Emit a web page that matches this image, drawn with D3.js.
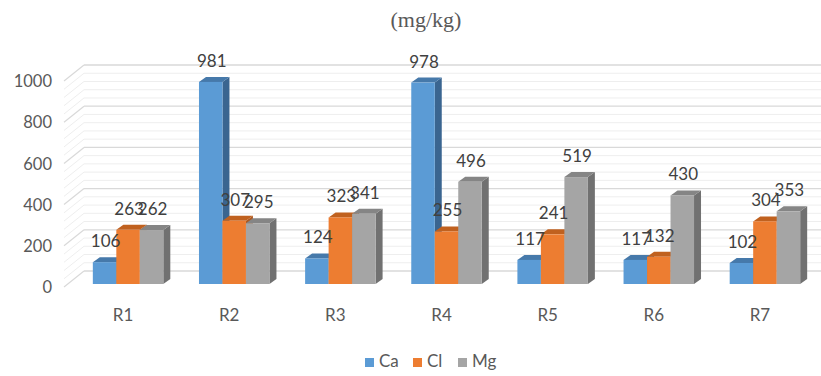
<!DOCTYPE html>
<html>
<head>
<meta charset="utf-8">
<script src="https://cdn.jsdelivr.net/npm/d3@7"></script>
<style>
  body { margin: 0; background: #fff; }
  svg { display: block; }
</style>
</head>
<body>
<div id="chart"></div>
<script>
// chart data
const categories = ["R1", "R2", "R3", "R4", "R5", "R6", "R7"];
const seriesNames = ["Ca", "Cl", "Mg"];
const caValues = [106, 981, 124, 978, 117, 117, 102];
const clValues = [263, 307, 323, 255, 241, 132, 304];
const mgValues = [262, 295, 341, 496, 519, 430, 353];
const yTicks = [0, 200, 400, 600, 800, 1000];
const titleText = "(mg/kg)";

const width = 821, height = 376;
const font = "Lato, 'Open Sans', sans-serif";

// colours: front, top, side
const colors = {
  Ca: ["#5b9bd5", "#4679aa", "#3a6590"],
  Cl: ["#ed7d31", "#c0611f", "#ad5a22"],
  Mg: ["#a5a5a5", "#858585", "#717171"]
};

const data = categories.map((c, i) => ({ cat: c, Ca: caValues[i], Cl: clValues[i], Mg: mgValues[i] }));

const svg = d3.select("#chart")
  .append("svg")
  .attr("width", width)
  .attr("height", height);

// bar plane scales
const x = d3.scaleBand()
  .domain(categories)
  .range([75, 818])
  .paddingInner(0.336)
  .paddingOuter(0.168);

const xSub = d3.scaleBand()
  .domain(seriesNames)
  .range([0, x.bandwidth()]);

const y = d3.scaleLinear().domain([0, 1000]).range([284, 78]);

// wall offsets relative to the bar plane
const back = { dx: 16, dy: -13 };
const front = { dx: -4, dy: 3 };
const barDepth = { dx: 7, dy: -5 };

// gridlines (major every 200, minor every 40)
const gridVals = d3.range(0, 1001, 40);
const grid = svg.append("g");
gridVals.forEach(v => {
  const major = v % 200 === 0;
  const col = major ? "#d9d9d9" : "#eeeeee";
  const yb = y(v) + back.dy, yf = y(v) + front.dy;
  const xb = x.range()[0] - 7 + back.dx, xf = x.range()[0] - 7 + front.dx;
  grid.append("line")
    .attr("x1", xf).attr("y1", yf)
    .attr("x2", xb).attr("y2", yb)
    .attr("stroke", col).attr("stroke-width", major ? 1.3 : 1);
  grid.append("line")
    .attr("x1", xb).attr("y1", yb)
    .attr("x2", width).attr("y2", yb)
    .attr("stroke", col).attr("stroke-width", major ? 1.3 : 1);
});

// y axis labels
svg.append("g")
  .selectAll("text")
  .data(yTicks)
  .join("text")
  .attr("x", 52)
  .attr("y", d => y(d) + front.dy + 2)
  .attr("text-anchor", "end")
  .attr("dominant-baseline", "middle")
  .style("font-family", font)
  .style("font-size", "16.5px")
  .attr("fill", "#595959")
  .text(d => d);

// bars
const bars = svg.append("g");
data.forEach(d => {
  seriesNames.forEach(key => {
    const x0 = x(d.cat) + xSub(key);
    const w = xSub.bandwidth();
    const yt = y(d[key]), yb = y(0);
    const c = colors[key];
    // side face
    bars.append("path")
      .attr("d", `M${x0 + w},${yt} L${x0 + w + barDepth.dx},${yt + barDepth.dy} L${x0 + w + barDepth.dx},${yb + barDepth.dy} L${x0 + w},${yb} Z`)
      .attr("fill", c[2]);
    // top face
    bars.append("path")
      .attr("d", `M${x0},${yt} L${x0 + barDepth.dx},${yt + barDepth.dy} L${x0 + w + barDepth.dx},${yt + barDepth.dy} L${x0 + w},${yt} Z`)
      .attr("fill", c[1]);
    // front face
    bars.append("rect")
      .attr("x", x0).attr("y", yt)
      .attr("width", w).attr("height", yb - yt)
      .attr("fill", c[0]);
  });
});

// data labels
const labels = svg.append("g");
data.forEach(d => {
  seriesNames.forEach(key => {
    labels.append("text")
      .attr("x", x(d.cat) + xSub(key) + xSub.bandwidth() / 2 + 1)
      .attr("y", y(d[key]) - 15)
      .attr("text-anchor", "middle")
      .style("font-family", font)
      .style("font-size", "17px")
      .attr("fill", "#404040")
      .text(d[key]);
  });
});

// category labels
svg.append("g")
  .selectAll("text")
  .data(categories)
  .join("text")
  .attr("x", d => x(d) + x.bandwidth() / 2 - 5)
  .attr("y", 321)
  .attr("text-anchor", "middle")
  .style("font-family", font)
  .style("font-size", "17px")
  .attr("fill", "#595959")
  .text(d => d);

// title
svg.append("text")
  .attr("x", 426)
  .attr("y", 27)
  .attr("text-anchor", "middle")
  .style("font-family", "'Liberation Serif', serif")
  .style("font-size", "22px")
  .attr("fill", "#595959")
  .text(titleText);

// legend
const legendX = [365, 413, 458];
const legend = svg.append("g");
seriesNames.forEach((key, i) => {
  legend.append("rect")
    .attr("x", legendX[i]).attr("y", 358)
    .attr("width", 9).attr("height", 9)
    .attr("fill", colors[key][0]);
  legend.append("text")
    .attr("x", legendX[i] + 14)
    .attr("y", 363)
    .attr("dominant-baseline", "middle")
    .style("font-family", font)
    .style("font-size", "17px")
    .attr("fill", "#595959")
    .text(key);
});
</script>
</body>
</html>
